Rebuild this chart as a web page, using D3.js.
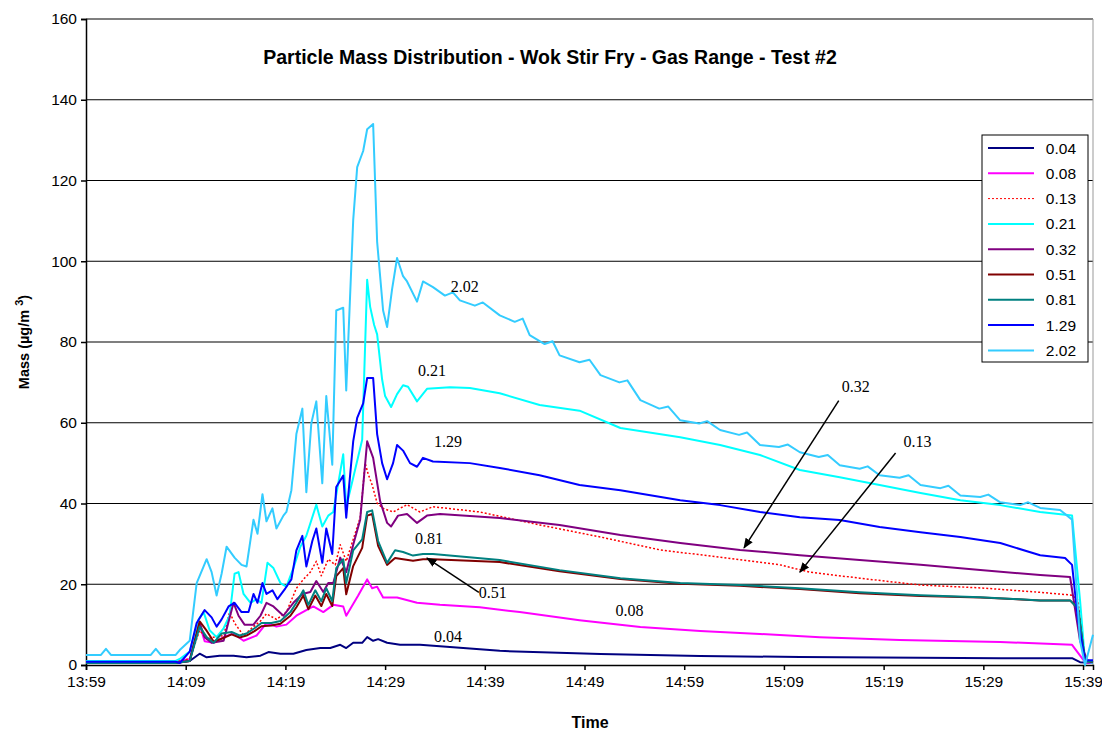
<!DOCTYPE html>
<html><head><meta charset="utf-8">
<script src="https://cdn.jsdelivr.net/npm/d3@7"></script>
<style>body{margin:0;background:#fff}</style>
</head><body><svg id="c" width="1102" height="733" font-family="Arial, Liberation Sans, sans-serif"></svg>
<script>
// minutes after 13:59, value in ug/m3
const tickLabels = ["13:59","14:09","14:19","14:29","14:39","14:49","14:59","15:09","15:19","15:29","15:39"];
const yTicks = [0,20,40,60,80,100,120,140,160];

const s004 = [[0,0.8],[9,0.8],[10.4,1],[11.4,2.8],[12.1,1.9],[13.4,2.3],[14.8,2.3],[16.1,1.9],[17.5,2.3],[18.3,3.2],[19.5,2.8],[20.8,2.8],[22.1,3.7],[23.5,4.2],[24.5,4.2],[25.5,5],[26.1,4.2],[26.8,5.5],[27.7,5.5],[28.2,6.9],[28.8,6],[29.3,6.4],[30.2,5.5],[31.5,5],[33.5,5],[41.5,3.5],[51.6,2.7],[61.6,2.2],[71.6,2],[91.7,1.7],[98.9,1.7],[99.7,0.7],[101,0.5]];
const s008 = [[0,0.8],[9,0.8],[10.4,1.5],[11.4,10],[11.9,5.9],[12.8,5.5],[13.8,6.9],[14.8,7.8],[15.8,6],[17.1,7.3],[18.1,10.4],[19.1,9.5],[20.1,10],[21.1,12.2],[22.1,13.6],[22.8,14.5],[23.8,13.1],[24.8,14.9],[25.8,14.5],[26.1,12.2],[27.3,17.2],[28.2,21.2],[28.7,19],[29.2,19.4],[29.8,16.7],[31.2,16.7],[33.2,15.4],[35.5,14.9],[39.5,14.3],[43.5,13.1],[49.5,11.1],[55.6,9.4],[61.6,8.4],[67.6,7.7],[73.6,6.9],[81.6,6.2],[91.7,5.7],[98.9,5],[99.5,3],[100.2,0.7],[101,0.5]];
const s013 = [[0,0.8],[9,0.8],[10.4,1.5],[11.4,8.6],[12.1,6.4],[12.8,6.9],[13.8,7.3],[14.4,13.1],[14.9,10.4],[15.8,7.3],[16.8,9.5],[17.5,10.9],[18.1,12.7],[19.1,11.3],[20.1,13.1],[21.1,19],[21.8,21.2],[22.5,23],[23.1,25.7],[23.6,22.1],[24.3,26.2],[25,24.8],[25.5,29.8],[26.1,25.7],[26.8,31.1],[27.5,36.5],[28,50],[28.3,47.3],[28.7,44.6],[29.2,40.1],[29.8,38.8],[30.8,37.9],[32.2,39.7],[33.5,37.9],[34.8,39.2],[39.5,37.9],[45.5,34.7],[51.6,31.7],[57.6,28.5],[63.6,26.7],[69.6,24.8],[72.6,23],[77.6,21.5],[83.7,19.8],[89.7,19.1],[95.7,18],[98.9,17.3],[99.5,16],[100.2,1.2],[101,0.8]];
const s021 = [[0,1],[9,1],[9.4,1.5],[10.4,3.3],[11.3,11.3],[11.8,13.1],[12.4,8.6],[13.1,6.9],[13.8,9.1],[14.4,12.2],[14.9,22.6],[15.3,23],[15.8,17.6],[16.5,15.4],[17.1,16.3],[17.6,15.4],[18.2,25.3],[18.8,24],[19.5,20.3],[20.1,19.4],[20.8,24],[21.5,29.3],[22.1,32],[23.1,39.7],[23.7,34.3],[24.3,37],[24.8,37.9],[25.3,45],[25.8,52.2],[26.1,39.2],[26.8,46.4],[27.7,55.8],[28.2,95.4],[28.5,88.7],[28.9,84.2],[29.2,81.9],[29.7,70.7],[30,66.6],[30.6,63.9],[31.2,67.1],[31.8,69.3],[32.3,68.9],[33.2,65.3],[34.2,68.4],[36.5,68.8],[38.5,68.6],[41.5,67.3],[45.5,64.4],[49.5,63],[53.6,58.7],[59.6,56.4],[63.6,54.5],[67.6,52],[71.6,48.3],[75.6,46.5],[79.6,44.6],[83.7,42.6],[87.7,40.8],[91.7,39.6],[95.7,37.9],[98.9,37],[99.7,16],[100.2,1],[101,0.5]];
const s032 = [[0,0.5],[9,0.5],[10.4,1],[11.4,10.4],[11.9,6.9],[12.6,5.5],[13.8,6],[14.8,15.4],[15.3,12.2],[15.9,10],[16.8,10],[17.5,12.2],[18.1,15.4],[18.8,14.5],[19.8,12.2],[20.8,15.4],[21.7,17.6],[22.5,18.1],[23.1,20.8],[23.8,18.1],[24.3,20.3],[24.8,20.3],[25.5,26.6],[26.1,23],[26.8,29.8],[27.5,36],[28.2,55.4],[28.8,51.3],[29.5,40.6],[30.2,35.2],[30.6,34.3],[31.3,37],[32.2,37.4],[33.2,35.2],[34.2,37],[35.5,37.4],[41.5,36.4],[47.5,34.7],[53.6,32.2],[59.6,30.2],[65.6,28.5],[71.6,27.2],[77.6,26],[83.7,24.8],[89.7,23.5],[95.7,22.3],[98.7,21.8],[99.7,6],[100.4,1.2],[101,0.7]];
const s051 = [[0,0.5],[9,0.5],[10.4,1],[11.4,10.8],[12.1,8.5],[12.8,5.8],[13.6,6.5],[14.6,7.6],[15.4,6.8],[16.1,7.3],[16.9,8.4],[17.6,9.6],[18.6,9.8],[19.5,10.2],[20.5,12.2],[21.1,14.3],[21.8,17.2],[22.3,13.8],[23,17.2],[23.6,14.6],[24.1,17.6],[24.7,14.6],[25.1,22],[25.8,24],[26.1,17.5],[26.8,24.5],[27.7,29],[28.2,37],[28.7,37.4],[29.3,29.5],[30.2,24.8],[31,26.5],[31.8,26.2],[32.8,25.8],[33.8,26.2],[34.8,26.2],[41.5,25.5],[47.5,23.2],[53.6,21.3],[59.6,20.1],[65.6,19.6],[71.6,18.8],[77.6,17.8],[83.7,17.1],[89.7,16.7],[95.7,16],[98.7,16],[99.5,14],[100.2,1],[101,0.7]];
const s081 = [[0,0.5],[9,0.5],[10.4,1],[11.4,9.5],[12.1,6.9],[12.8,5.5],[13.6,7.8],[14.6,8.2],[15.4,7.3],[16.1,7.8],[16.9,9.1],[17.6,10.4],[18.6,10.4],[19.5,10.9],[20.5,13.1],[21.1,15.4],[21.8,18.5],[22.3,14.9],[23,18.5],[23.6,15.8],[24.1,19],[24.7,15.8],[25.1,24],[25.8,26.2],[26.1,20.3],[26.8,28.4],[27.7,31.1],[28.2,37.9],[28.7,38.3],[29.3,30.7],[30.2,25.3],[31,28.4],[31.8,28],[32.8,27.1],[33.8,27.5],[34.8,27.5],[41.5,26],[47.5,23.5],[53.6,21.5],[59.6,20.3],[65.6,19.8],[71.6,19],[77.6,18],[83.7,17.3],[89.7,16.8],[95.7,16],[98.7,16],[99.5,14],[100.2,1],[101,0.8]];
const s129 = [[0,0.8],[9,0.8],[9.4,0.5],[10.4,3.3],[11.1,10.4],[11.9,13.6],[12.6,11.8],[13.1,9.5],[13.6,11.3],[14.3,14.5],[14.9,15.4],[15.6,13.1],[16.3,13.1],[16.8,17.6],[17.2,15.4],[17.7,20.3],[18.1,17.6],[18.7,18.5],[19.2,16.3],[20,19],[20.6,21.2],[21.1,28.4],[21.7,32],[22.1,24.4],[22.7,30.7],[23.1,33.8],[23.7,25.3],[24.1,33.8],[24.7,27.5],[25.1,44.1],[25.8,46.9],[26.1,36.5],[26.8,55.4],[27.2,61.2],[27.8,64.8],[28.2,71.1],[28.8,71.1],[29.2,57.2],[29.7,50],[30.2,46],[30.8,50],[31.2,54.5],[31.8,53.1],[32.5,50],[33.2,49.1],[33.8,51.3],[34.8,50.4],[38.5,50],[41.5,48.8],[45.5,47],[49.5,44.6],[53.6,43.3],[59.6,40.8],[63.6,39.6],[67.6,37.9],[71.6,36.6],[75.6,35.9],[79.6,34.2],[83.7,32.9],[87.7,31.7],[91.7,30.2],[95.7,27.2],[98.2,26.5],[98.9,24.8],[99.5,11],[100.2,1.2],[101,1.2]];
const s202 = [[0,2.5],[1.5,2.5],[2,4],[2.5,2.5],[6.5,2.5],[7,4],[7.5,2.5],[9,2.5],[9.4,3.7],[10.4,6],[11.1,20.3],[12.1,26.2],[12.6,23],[13.1,17.2],[13.6,22.6],[14.1,29.3],[14.9,26.6],[15.6,24.8],[16.1,24.4],[16.8,36],[17.2,32.5],[17.7,42.3],[18.1,35.6],[18.7,38.8],[19.1,33.8],[19.8,37],[20.1,37.9],[20.6,43.3],[21.1,57.2],[21.7,63.5],[22.1,42.8],[22.6,59.9],[23.1,65.3],[23.7,45],[24.1,66.6],[24.7,49.6],[25.1,87.8],[25.8,88.5],[26.1,68],[26.8,110.2],[27.2,123.3],[27.8,127.3],[28.2,132.7],[28.8,134],[29.2,104.8],[29.8,87.8],[30.2,83.7],[30.7,93.1],[31.2,100.8],[31.8,96.3],[32.2,95],[33.2,90],[33.8,95],[34.8,93.6],[36,91.5],[36.8,92.3],[37.5,90.3],[39,89],[39.8,89.8],[41.5,86.6],[43,85],[43.8,85.8],[44.5,81.7],[46,79.5],[46.8,80.2],[47.5,76.7],[49.5,75],[50.5,75.6],[51.6,71.8],[53.5,70],[54.3,70.5],[55.6,65.6],[57.5,63.5],[58.4,64],[59.6,60.6],[61.5,59.8],[62.3,60.4],[63.6,58.2],[65.5,57],[66.3,57.6],[67.6,54.5],[69.5,54],[70.4,54.6],[71.6,52.7],[73.5,51.5],[74.4,52],[75.6,49.5],[77.6,48.6],[78.4,49.2],[79.6,47],[81.6,46.4],[82.5,47],[83.7,44.6],[85.7,43.8],[86.5,44.4],[87.7,42],[89.7,41.6],[90.5,42.2],[91.7,40.3],[93.7,39.6],[94.5,40.3],[95.7,38.9],[97.7,38.4],[98.9,36],[99.7,6],[100.2,0],[101,7.5]];

const seriesNames = ["0.04","0.08","0.13","0.21","0.32","0.51","0.81","1.29","2.02"];
const seriesData = [s004,s008,s013,s021,s032,s051,s081,s129,s202];
const seriesColors = ["#000080","#FF00FF","#FF0000","#00FFFF","#800080","#800000","#008080","#0000FF","#33CCFF"];

// in-chart labels [text, minute, value]
const notes = [["2.02",38,92.5],["0.21",34.7,71.5],["1.29",36.3,54],["0.81",34.4,30],["0.04",36.3,5.8],["0.08",54.5,12.2],["0.32",77.2,67.5],["0.13",83.4,54],["0.51",40.8,16.5]];
// arrows [from minute, from value, to minute, to value]
const arrows = [[75.5,65.5,66,29],[81.2,52.5,71.6,23],[39.4,18,34.2,26.5]];

const svg = d3.select("#c");
const m = {l:86, t:19, r:1093, b:665};
const x = d3.scaleLinear().domain([0,101]).range([m.l,m.r]);
const y = d3.scaleLinear().domain([0,160]).range([m.b,m.t]);

svg.append("g").selectAll("line").data(yTicks.filter(d=>d>0)).join("line")
  .attr("x1",m.l).attr("x2",m.r).attr("y1",d=>y(d)).attr("y2",d=>y(d))
  .attr("stroke","#000").attr("stroke-width",1.2);
svg.append("line").attr("x1",m.r).attr("x2",m.r).attr("y1",m.t).attr("y2",m.b).attr("stroke","#999");

const xAxis = svg.append("g").attr("transform",`translate(0,${m.b})`)
  .call(d3.axisBottom(x).tickValues(d3.range(0,101,10)).tickFormat((d,i)=>tickLabels[i]).tickSize(5).tickPadding(6));
const yAxis = svg.append("g").attr("transform",`translate(${m.l},0)`)
  .call(d3.axisLeft(y).tickValues(yTicks).tickSize(5).tickPadding(4));
[xAxis,yAxis].forEach(g=>{
  g.attr("font-family",null).attr("font-size",null);
  g.selectAll("text").attr("font-size",15.5).attr("fill","#000");
  g.selectAll("line,path").attr("stroke","#000").attr("stroke-width",1.5);
});

const line = d3.line().x(d=>x(d[0])).y(d=>y(d[1]));
seriesData.forEach((d,i)=>{
  svg.append("path").datum(d).attr("d",line).attr("fill","none")
    .attr("stroke",seriesColors[i])
    .attr("stroke-width",seriesNames[i]==="0.13"?1.5:2)
    .attr("stroke-dasharray",seriesNames[i]==="0.13"?"2,2":null)
    .attr("stroke-linejoin","round");
});

svg.append("defs").append("marker").attr("id","ah").attr("viewBox","0 0 10 10")
  .attr("refX",9).attr("refY",5).attr("markerWidth",7).attr("markerHeight",7).attr("orient","auto")
  .append("path").attr("d","M0,1L10,5L0,9z").attr("fill","#000");
svg.append("g").selectAll("line").data(arrows).join("line")
  .attr("x1",d=>x(d[0])).attr("y1",d=>y(d[1])).attr("x2",d=>x(d[2])).attr("y2",d=>y(d[3]))
  .attr("stroke","#000").attr("stroke-width",1.5).attr("marker-end","url(#ah)");
svg.append("g").selectAll("text").data(notes).join("text")
  .attr("x",d=>x(d[1])).attr("y",d=>y(d[2])).attr("text-anchor","middle")
  .attr("font-family","Liberation Serif, Times New Roman, serif").attr("font-size",16).text(d=>d[0]);

svg.append("text").attr("x",550).attr("y",64).attr("text-anchor","middle")
  .attr("font-weight","bold").attr("font-size",19.5).text("Particle Mass Distribution - Wok Stir Fry - Gas Range - Test #2");
svg.append("text").attr("x",590).attr("y",728).attr("text-anchor","middle")
  .attr("font-weight","bold").attr("font-size",16).text("Time");
const yt = svg.append("text").attr("transform","translate(29,342) rotate(-90)").attr("text-anchor","middle")
  .attr("font-weight","bold").attr("font-size",14.5);
yt.append("tspan").text("Mass (µg/m   ");
yt.append("tspan").attr("dy",-6).attr("font-size",11).text("3");
yt.append("tspan").attr("dy",6).text(")");

const lg = svg.append("g").attr("transform","translate(982,135)");
lg.append("rect").attr("width",106).attr("height",227).attr("fill","#fff").attr("stroke","#000");
seriesNames.forEach((n,i)=>{
  const yy = 13 + i*25.3;
  lg.append("line").attr("x1",6).attr("x2",52).attr("y1",yy).attr("y2",yy)
    .attr("stroke",seriesColors[i]).attr("stroke-width",n==="0.13"?1:2)
    .attr("stroke-dasharray",n==="0.13"?"2,2":null);
  lg.append("text").attr("x",94).attr("y",yy+5.5).attr("text-anchor","end").attr("font-size",15.5).text(n);
});
</script></body></html>
